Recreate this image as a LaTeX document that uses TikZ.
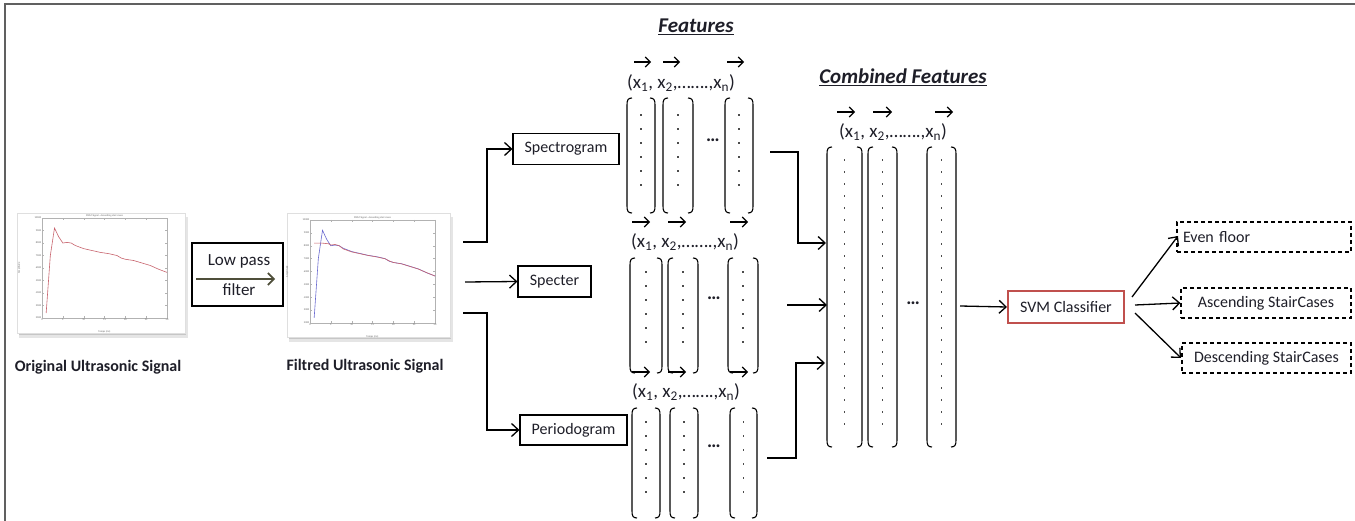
\documentclass[tikz,border=0pt]{standalone}
\usepackage{fontspec}
\setmainfont{Carlito}
\usetikzlibrary{arrows.meta}
\definecolor{txt}{HTML}{1E1E28}
\definecolor{svmred}{HTML}{C0504D}
\definecolor{olive}{HTML}{4F4F3A}
\definecolor{pinkc}{HTML}{C8646E}
\definecolor{bluec}{HTML}{6A6AD0}
\newcommand\fcol[5]{%
  \draw[brk] ({#1+5},#3) .. controls ({#1+1},#3) and (#1,{#3+2}) .. (#1,{#3+7}) -- (#1,{#4-7}) .. controls (#1,{#4-2}) and ({#1+1},#4) .. ({#1+5},#4);
  \draw[brk] ({#2-5},#3) .. controls ({#2-1},#3) and (#2,{#3+2}) .. (#2,{#3+7}) -- (#2,{#4-7}) .. controls (#2,{#4-2}) and ({#2-1},#4) .. ({#2-5},#4);
  \foreach \yy in {#5} \fill[gray!60!black] ({(#1+#2)/2-0.6},{\yy-0.6}) rectangle ++(1.2,1.2);
}
\newcommand\plotaxes[1]{%
  \draw[gray!60, line width=0.3pt] (0,0) rectangle (30,8000);
  \foreach \t in {0,5,...,30} {
    \draw[gray!60, line width=0.3pt] (\t,0) -- (\t,150) (\t,8000) -- (\t,7850);
    \node[tiny, below] at (\t,0) {\t};
  }
  \foreach \a/\l in {0/2000,1000/3000,2000/4000,3000/5000,4000/6000,5000/7000,6000/8000,7000/9000,8000/10000} {
    \draw[gray!60, line width=0.3pt] (0,\a) -- (0.5,\a) (30,\a) -- (29.5,\a);
    \node[tiny, left] at (0,\a) {\l};
  }
  \node[tiny, above] at (15,8000) {#1};
  \node[tiny] at (15,-1100) {Temps (ms)};
  \node[tiny, rotate=90] at (-5.5,4000) {Amplitude};
}
\begin{document}
\begin{tikzpicture}[x=1pt,y=-1pt,
  ln/.style={line width=1.3pt, black},
  arr/.style={ln, -{Straight Barb[length=7pt,width=13pt,line width=1.3pt]}},
  vec/.style={line width=1.1pt, -{Straight Barb[length=5pt,width=10pt,line width=1.1pt]}},
  brk/.style={line width=1.1pt, black},
  box/.style={draw, line width=1.1pt, inner sep=0pt, text=txt, font=\fontsize{16}{19}\selectfont},
  dbox/.style={box, dash pattern=on 4pt off 3pt},
  lab/.style={text=txt, font=\fontsize{19}{22}\selectfont, inner sep=0pt},
  ttl/.style={text=txt, font=\fontsize{21}{24}\selectfont\bfseries\itshape, inner sep=0pt},
  capt/.style={text=txt, font=\fontsize{16}{18}\selectfont\bfseries, inner sep=0pt},
  tiny/.style={font=\fontsize{2.6}{3}\selectfont, inner sep=0.6pt, text=gray!80!black},
  plotimg/.style={fill=white, draw=gray!25, line width=0.4pt, inner sep=0pt}
]
\useasboundingbox (0,0) rectangle (1355,521);
% frame
\draw[gray!75!black, line width=1.4pt] (5,521) -- (5,4) -- (1355,4);

% ---------- plot 1 ----------
\fill[gray!20] (19,217) rectangle (188,338);
\fill[gray!45] (19,215) rectangle (186,335);
\node[plotimg, minimum width=168pt, minimum height=120pt] (p1) at (101,273) {};
\begin{scope}[shift={(42pt,-318pt)}, x=4.1667pt, y=0.0125pt]
  \plotaxes{PWM Signal - Ascending stair cases}
  \draw[pinkc, line width=0.6pt] plot coordinates {(1,400) (2,5000) (3,7200) (4,6500) (5,6000) (6,6050) (7,6000) (8,5800) (10,5550) (12,5400) (14,5250) (16,5150) (18,5000) (19,4800) (20,4700) (22,4600) (24,4400) (26,4200) (28,3900) (30,3650)};
\end{scope}
\node[capt] (c1) at (98,367) {Original Ultrasonic Signal};

% ---------- low pass ----------
\node[draw, line width=1.3pt, minimum width=91pt, minimum height=63pt, inner sep=0pt] (lp) at (237.5,274.5) {};
\node[text=txt, font=\fontsize{17}{20}\selectfont, inner sep=0pt] (lpt1) at (239,261) {Low pass};
\node[text=txt, font=\fontsize{17}{20}\selectfont, inner sep=0pt] (lpt2) at (239,290) {filter};
\coordinate (lpa) at (196,279);
\coordinate (lpb) at (275,279);
\draw[olive, line width=1.6pt, -{Straight Barb[length=6pt,width=12pt,line width=1.6pt]}] (lpa) -- (lpb);

% ---------- plot 2 ----------
\fill[gray!20] (289,217) rectangle (453,342);
\fill[gray!45] (289,215) rectangle (451,339);
\node[plotimg, minimum width=163pt, minimum height=124pt] (p2) at (368.5,275) {};
\begin{scope}[shift={(310pt,-323pt)}, x=4.1667pt, y=0.012875pt]
  \plotaxes{PWM Signal - Ascending stair cases}
  \draw[bluec, line width=0.6pt] plot coordinates {(1,400) (2,5000) (3,7200) (4,6500) (5,6000) (6,6050) (7,6000) (8,5800) (10,5550) (12,5400) (14,5250) (16,5150) (18,5000) (19,4800) (20,4700) (22,4600) (24,4400) (26,4200) (28,3900) (30,3650)};
  \draw[pinkc, line width=0.6pt] plot coordinates {(1,6200) (3,6200) (4.5,6150) (5,6050) (6,6100) (7,6000) (8,5750) (10,5520) (12,5380) (14,5240) (16,5130) (18,4990) (19,4820) (20,4700) (22,4590) (24,4390) (26,4190) (28,3910) (30,3650)};
\end{scope}
\node[capt] (c2) at (365,366) {Filtred Ultrasonic Signal};

% ---------- feature boxes ----------
\node[box, minimum width=106pt, minimum height=31pt] (spg) at (566,149) {Spectrogram};
\node[box, minimum width=73pt, minimum height=31pt] (spc) at (554.5,281.5) {Specter};
\node[box, minimum width=107pt, minimum height=30pt] (per) at (573.5,430) {Periodogram};
\coordinate (o1) at (463,242);
\coordinate (o2) at (465,282);
\coordinate (o3) at (463,313);
\draw[arr] (o1) -- (487,242) |- (spg.west);
\draw[arr] (o2) -- (spc.west);
\draw[arr] (o3) -- (487,313) |- (per.west);

% ---------- titles ----------
\node[ttl] (tf) at (696,27) {\underline{Features}};
\node[ttl] (tcf) at (903,77) {\underline{Combined Features}};

% ---------- group 1 ----------
\foreach \a/\b in {634/651,663/680,727/744} \draw[vec] (\a,62) -- (\b,62);
\node[lab, anchor=west] (l1) at (627,83) {(x\textsubscript{1}, x\textsubscript{2},…….,x\textsubscript{n})};
\fcol{627}{655}{98}{213}{115,129,143,157,171,185}
\fcol{663}{693}{98}{213}{115,129,143,157,171,185}
\fcol{725}{753}{98}{213}{115,129,143,157,171,185}
\node[lab] (e1) at (713,140) {\textbf{…}};

% ---------- group 2 ----------
\foreach \a/\b in {632/650,668/686,730/748} \draw[vec] (\a,222) -- (\b,222);
\node[lab, anchor=west] (l2) at (631,242) {(x\textsubscript{1}, x\textsubscript{2},…….,x\textsubscript{n})};
\fcol{630}{662}{258}{373}{272,286,300,314,328,342}
\fcol{668}{698}{258}{373}{272,286,300,314,328,342}
\fcol{728}{758}{258}{373}{272,286,300,314,328,342}
\node[lab] (e2) at (714,298) {\textbf{…}};

% ---------- group 3 ----------
\foreach \a/\b in {632/650,668/686,730/748} \draw[vec] (\a,372) -- (\b,372);
\node[lab, anchor=west] (l3) at (632,392) {(x\textsubscript{1}, x\textsubscript{2},…….,x\textsubscript{n})};
\fcol{632}{660}{408}{518}{422,436,450,464,478,492}
\fcol{670}{698}{408}{518}{422,436,450,464,478,492}
\fcol{730}{757}{408}{518}{422,436,450,464,478,492}
\node[lab] (e3) at (714,446) {\textbf{…}};

% ---------- combined ----------
\foreach \a/\b in {837/855,873/892,935/953} \draw[vec] (\a,112) -- (\b,112);
\node[lab, anchor=west] (l4) at (839,132) {(x\textsubscript{1}, x\textsubscript{2},…….,x\textsubscript{n})};
\fcol{827}{862}{147}{447}{160,172,...,424}
\fcol{868}{897}{147}{447}{160,172,...,424}
\fcol{927}{956}{147}{447}{160,172,...,424}
\node[lab] (e4) at (913,303) {\textbf{…}};

\coordinate (g1) at (770,152);
\coordinate (g2) at (787,305);
\coordinate (g3) at (767,458);
\coordinate (ci1) at (826,243);
\coordinate (ci2) at (827,305);
\coordinate (ci3) at (825,363);
\draw[arr] (g1) -- (798,152) |- (ci1);
\draw[arr] (g2) -- (ci2);
\draw[arr] (g3) -- (796,458) |- (ci3);

% ---------- classifier ----------
\node[box, draw=svmred, line width=2pt, minimum width=116pt, minimum height=32pt] (svm) at (1066,307) {SVM Classifier};
\coordinate (cout) at (960,306);
\draw[arr] (cout) -- (svm.west);

\node[dbox, minimum width=174pt, minimum height=30pt, text width=162pt, align=left] (ev) at (1264,237) {Even floor};
\node[dbox, minimum width=170pt, minimum height=30pt] (asc) at (1266,303) {Ascending StairCases};
\node[dbox, minimum width=169pt, minimum height=30pt] (dsc) at (1266.5,358) {Descending StairCases};
\coordinate (s1) at (1132,297);
\coordinate (s2) at (1135,305);
\coordinate (s3) at (1135,313);
\draw[arr] (s1) -- (1178,236);
\draw[arr] (s2) -- (asc.west);
\draw[arr] (s3) -- (1181,358);
\end{tikzpicture}
\end{document}
